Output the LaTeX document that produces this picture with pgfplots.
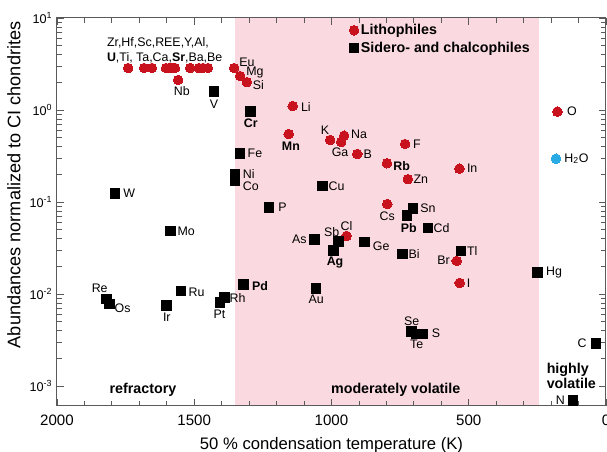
\documentclass[border=0pt]{standalone}
\usepackage{pgfplots}
\pgfplotsset{compat=1.18}
\usepackage{fontspec}
\setmainfont{Liberation Sans}
\definecolor{pinkc}{RGB}{250,218,224}
\definecolor{redc}{RGB}{200,18,30}
\definecolor{bluec}{RGB}{40,170,228}
\definecolor{axc}{RGB}{90,90,90}
\tikzset{lbl/.style={inner sep=0pt, font=\fontsize{9.3}{11}\selectfont}}
\newcommand{\R}[5][]{\node[lbl,anchor=west,xshift=#3pt,yshift=#4pt,#1] at (axis cs:#2) {#5};}
\newcommand{\Lf}[5][]{\node[lbl,anchor=east,xshift=#3pt,yshift=#4pt,#1] at (axis cs:#2) {#5};}
\newcommand{\C}[5][]{\node[lbl,anchor=center,xshift=#3pt,yshift=#4pt,#1] at (axis cs:#2) {#5};}
\begin{document}
\begin{tikzpicture}
\begin{axis}[
 name=ax,
 scale only axis, width=411.75pt, height=291pt,
 xmin=0, xmax=2000, x dir=reverse,
 ymode=log, ymin=6.06e-4, ymax=10,
 xtick={0,500,1000,1500,2000},
 minor x tick num=4,
 ytick={1e-3,1e-2,1e-1,1,10},
 yticklabels={10\textsuperscript{-3},10\textsuperscript{-2},10\textsuperscript{-1},10\textsuperscript{0},10\textsuperscript{1}},
 x tick label style={font=\fontsize{11.3}{13}\selectfont, yshift=-3.5pt},
 y tick label style={font=\fontsize{9.5}{11}\selectfont},
 /pgf/number format/assume math mode=true,
 /pgf/number format/1000 sep={},
 xlabel={50 \% condensation temperature (K)},
 ylabel={Abundances normalized to CI chondrites},
 xlabel style={font=\fontsize{12.5}{14}\selectfont, yshift=-1.5pt},
 ylabel style={font=\fontsize{13.6}{15}\selectfont, at={(ticklabel cs:0.57)}},
 axis line style={axc, line width=0.75pt},
 tick style={axc, line width=0.6pt},
 major tick length=5pt, minor tick length=3.5pt,
 axis on top,
 legend cell align=left,
 legend image code/.code={\draw[#1] plot coordinates {(0cm,0cm)};},
 legend style={at={(0.532,0.990)}, anchor=north west, draw=none, fill=none,
   font=\fontsize{10.7}{12.8}\selectfont\bfseries, inner sep=0pt, row sep=1pt,
   nodes={inner sep=1.5pt}},
]
\addplot[fill=pinkc, draw=none, forget plot] coordinates {(1350,1e-4) (245,1e-4) (245,100) (1350,100)} -- cycle;

% Lithophiles
\addplot[only marks, mark=*, mark size=3.6pt, color=redc, mark options={fill=redc, draw=redc, line width=0pt}] coordinates {
 (1741,2.86) (1683,2.86) (1654,2.86) (1603,2.86) (1590,2.86) (1578,2.86) (1570,2.86)
 (1515,2.86) (1483,2.86) (1468,2.86) (1450,2.86)
 (1559,2.12) (1355,2.86) (1333,2.34) (1308,2.01)
 (1141,1.105) (1156,0.548) (1005,0.472) (954,0.526) (965,0.449) (906,0.333)
 (732,0.427) (798,0.264) (722,0.177) (797,0.095) (945,0.0427) (544,0.0229)
 (533,0.0132) (534,0.230) (177,0.959)
};
\addlegendentry{Lithophiles}

% Sidero- and chalcophiles
\addplot[only marks, mark=square*, mark size=3.6pt, color=black, mark options={fill=black, draw=black, line width=0pt}] coordinates {
 (1428,1.58) (1294,0.959) (1333,0.338) (1352,0.200) (1352,0.171) (1033,0.149)
 (1227,0.0875) (703,0.0855) (725,0.0710) (648,0.0521) (1061,0.0389) (975,0.0370)
 (992,0.0299) (879,0.0367) (742,0.0272) (528,0.0293) (1321,0.0126) (1056,0.0115)
 (708,0.00389) (690,0.00367) (666,0.00367) (249,0.0172) (37,0.00291) (120,0.000692)
 (1788,0.124) (1587,0.0484) (1819,0.00883) (1809,0.00778) (1600,0.00747)
 (1548,0.0108) (1406,0.00804) (1389,0.00912)
};
\addlegendentry{Sidero- and chalcophiles}

% H2O
\addplot[only marks, mark=*, mark size=3.6pt, color=bluec, mark options={fill=bluec, draw=bluec, line width=0pt}, forget plot] coordinates {(182,0.296)};

% cluster text
\R{1741,2.86}{-16}{19}{Zr,Hf,Sc,REE,Y,Al,}
\R{1741,2.86}{-16}{8}{\textbf{U},Ti, Ta,Ca,\textbf{Sr},Ba,Be}

% right labels
\R{1355,2.86}{3.75}{4.5}{Eu}
\R{1333,2.34}{4.5}{2.5}{Mg}
\R{1308,2.01}{4.3}{-2.25}{Si}
\R{1141,1.105}{6}{-0.5}{Li}
\R{954,0.526}{5}{1.3}{Na}
\R{906,0.333}{4.5}{0}{B}
\R{732,0.427}{5.8}{0}{F}
\R{798,0.264}{4.7}{-1.8}{\textbf{Rb}}
\R{722,0.177}{4.2}{0}{Zn}
\R{534,0.230}{5.5}{0}{In}
\R{533,0.0132}{5.25}{0}{I}
\R{177,0.959}{7}{0}{O}
\R{182,0.296}{6}{0}{H\textsubscript{2}O}
\R{1333,0.338}{5.5}{0}{Fe}
\R{1352,0.200}{5.8}{0}{Ni}
\R{1352,0.171}{5.8}{-4}{Co}
\R{1033,0.149}{4.5}{0}{Cu}
\R{1227,0.0875}{6.75}{0}{P}
\R{703,0.0855}{5.25}{0}{Sn}
\R{648,0.0521}{4}{0}{Cd}
\R{879,0.0367}{6}{-2.8}{Ge}
\R{742,0.0272}{4.5}{0}{Bi}
\R{528,0.0293}{4.3}{0}{Tl}
\R{1321,0.0126}{6.3}{-0.75}{\textbf{Pd}}
\R{1389,0.00912}{3.5}{0}{Rh}
\R{666,0.00367}{6.3}{0.5}{S}
\R{249,0.0172}{6.2}{0}{Hg}
\R{1788,0.124}{6}{0}{W}
\R{1587,0.0484}{5.25}{-0.5}{Mo}
\R{1809,0.00778}{3.75}{-2.8}{Os}
\R{1548,0.0108}{5.5}{-1}{Ru}

% left labels
\Lf{1061,0.0389}{-6}{0}{As}
\Lf{544,0.0229}{-5}{0.75}{Br}
\Lf{37,0.00291}{-6.75}{0}{C}
\Lf{120,0.000692}{-6}{0.5}{N}

% centered labels
\C{1005,0.472}{-3.75}{7}{K}
\C{975,0.0370}{-5}{7.5}{Sb}
\C{1819,0.00883}{-5.25}{8}{Re}
\C{1559,2.12}{2.8}{-8}{Nb}
\C{1428,1.58}{0}{-9.3}{V}
\C{1294,0.959}{0}{-8.7}{\textbf{Cr}}
\C{1156,0.548}{1.7}{-8.8}{\textbf{Mn}}
\C{965,0.449}{-0.75}{-8}{Ga}
\C{797,0.095}{0}{-8.8}{Cs}
\C{725,0.0710}{1.3}{-9}{\textbf{Pb}}
\C{992,0.0299}{1}{-9.3}{\textbf{Ag}}
\C{1056,0.0115}{0}{-8}{Au}
\C{690,0.00367}{0}{-7.5}{Te}
\C{1600,0.00747}{0}{-9}{Ir}
\C{1406,0.00804}{-0.4}{-8.7}{Pt}
\C{945,0.0427}{0}{7.5}{Cl}
\C{708,0.00389}{0}{7.5}{Se}

% region labels
\node[anchor=base, inner sep=0pt, font=\fontsize{10.7}{12.8}\selectfont\bfseries] at (rel axis cs:0.1566,0.031) {refractory};
\node[anchor=base, inner sep=0pt, font=\fontsize{10.7}{12.8}\selectfont\bfseries] at (rel axis cs:0.617,0.031) {moderately volatile};
\node[anchor=base west, inner sep=0pt, font=\fontsize{10.7}{12.8}\selectfont\bfseries] at (rel axis cs:0.8916,0.085) {highly};
\node[anchor=base west, inner sep=0pt, font=\fontsize{10.7}{12.8}\selectfont\bfseries] at (rel axis cs:0.8916,0.0456) {volatile};
\end{axis}
\pgfresetboundingbox
\path ([xshift=-42.75pt,yshift=-34.5pt]ax.south west) rectangle ([xshift=0.75pt,yshift=13.5pt]ax.north east);
\end{tikzpicture}
\end{document}
